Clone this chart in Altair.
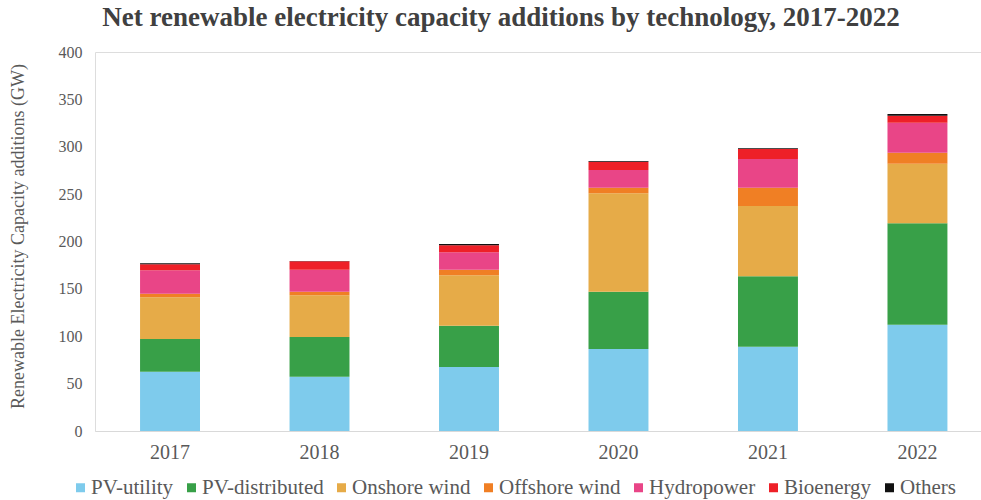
import altair as alt
import pandas as pd

years = ["2017", "2018", "2019", "2020", "2021", "2022"]
technologies = ["PV-utility", "PV-distributed", "Onshore wind", "Offshore wind",
                "Hydropower", "Bioenergy", "Others"]
colors = ["#7ECBEC", "#38A048", "#E6AB48", "#F07F24", "#E94587", "#EE2028", "#111111"]

# GW added per technology, one list per series
pv_utility = [62.6, 57.3, 67.5, 86.5, 89.0, 112.2]
pv_distributed = [34.5, 41.9, 43.7, 60.5, 74.3, 107.0]
onshore_wind = [44.0, 44.0, 53.1, 103.8, 74.2, 62.9]
offshore_wind = [3.8, 3.8, 6.0, 6.0, 19.3, 11.6]
hydropower = [24.7, 23.3, 18.3, 18.7, 30.2, 31.7]
bioenergy = [6.3, 8.8, 7.4, 8.8, 10.6, 7.4]
others = [1.1, 0.4, 1.4, 0.7, 0.7, 1.8]

series = [pv_utility, pv_distributed, onshore_wind, offshore_wind,
          hydropower, bioenergy, others]

rows = []
for tech_idx, (tech, vals) in enumerate(zip(technologies, series)):
    for year, v in zip(years, vals):
        rows.append({"year": year, "tech": tech, "value": v, "rank": tech_idx})
df = pd.DataFrame(rows)

FONT = "Liberation Serif"
TEXT = "#595959"

chart = (
    alt.Chart(df)
    .mark_bar()
    .encode(
        x=alt.X(
            "year:N",
            sort=years,
            title=None,
            scale=alt.Scale(paddingInner=0.599, paddingOuter=0.263, align=0.573),
            axis=alt.Axis(
                labelAngle=0, labelFont=FONT, labelFontSize=20, labelColor=TEXT,
                labelPadding=11, ticks=False, domainColor="#D9D9D9", domainWidth=1.2,
            ),
        ),
        y=alt.Y(
            "value:Q",
            stack="zero",
            scale=alt.Scale(domain=[0, 400]),
            axis=alt.Axis(
                values=list(range(0, 401, 50)), grid=False, domain=False, ticks=False,
                labelFont=FONT, labelFontSize=16, labelColor=TEXT, labelPadding=13,
                title="Renewable Electricity Capacity additions (GW)",
                titleFont=FONT, titleFontSize=18, titleFontWeight="normal",
                titleColor=TEXT, titleAngle=-90, titleX=-77, titleY=184,
                titleAlign="center", titleBaseline="middle",
            ),
        ),
        color=alt.Color(
            "tech:N",
            sort=technologies,
            scale=alt.Scale(domain=technologies, range=colors),
            legend=alt.Legend(
                title=None, orient="none", direction="horizontal",
                legendX=-25, legendY=425, symbolType="square", symbolSize=81,
                symbolStrokeWidth=0, labelFont=FONT, labelFontSize=21,
                labelColor=TEXT, labelOffset=0, columnPadding=7,
            ),
        ),
        order=alt.Order("rank:Q", sort="ascending"),
    )
    .properties(
        width=886,
        height=379,
        padding={"left": 95, "top": 52, "right": 0, "bottom": 69},
        autosize=alt.AutoSizeParams(type="none"),
        title=alt.Title(
            "Net renewable electricity capacity additions by technology, 2017-2022",
            font=FONT, fontSize=27, fontWeight="bold", color="#404040",
            anchor="middle", frame="group", dx=-37, offset=12,
        ),
    )
    .configure_view(stroke=None)
    .configure(background="white")
)

chart.save("out.html", embed_options={"renderer": "svg", "actions": False})
